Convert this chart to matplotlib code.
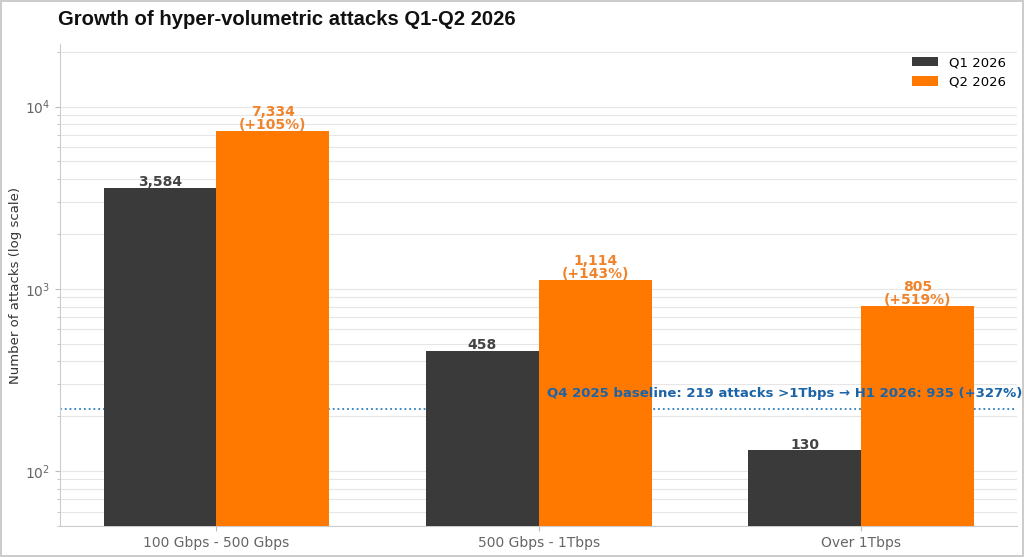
import numpy as np
import matplotlib.pyplot as plt

# Data
categories = ["100 Gbps - 500 Gbps", "500 Gbps - 1Tbps", "Over 1Tbps"]
q1_values = [3584, 458, 130]
q2_values = [7334, 1114, 805]
growth_pct = [105, 143, 519]
baseline_q4_2025 = 219
h1_2026_total = 935
baseline_growth = 327

q1_color = "#3a3a3a"
q2_color = "#ff7800"
q2_text_color = "#f0842c"
base_color = "#2a7fc0"
base_text_color = "#1c64a8"
grey = "#666666"

fig = plt.figure(figsize=(10.24, 5.57), dpi=100, edgecolor="#cccccc", linewidth=1.5)
ax = fig.add_axes([0.0586, 0.0557, 0.935, 0.865])

x = np.arange(len(categories))
w = 0.35
b1 = ax.bar(x - w / 2, q1_values, w, color=q1_color, label="Q1 2026", zorder=3)
b2 = ax.bar(x + w / 2, q2_values, w, color=q2_color, label="Q2 2026", zorder=3)

ax.set_yscale("log")
ax.set_ylim(50, max(q2_values) * 3)

for rect, v in zip(b1, q1_values):
    ax.text(rect.get_x() + rect.get_width() / 2, v * 0.985, f"{v:,}",
            ha="center", va="bottom", fontsize=10, fontweight="bold", color="#444444", zorder=4)
for rect, v, g in zip(b2, q2_values, growth_pct):
    ax.text(rect.get_x() + rect.get_width() / 2, v * 0.985, f"{v:,}\n(+{g}%)",
            ha="center", va="bottom", fontsize=10, fontweight="bold", color=q2_text_color,
            linespacing=0.95, zorder=4)

# Q4 2025 baseline
ax.axhline(baseline_q4_2025, color=base_color, linestyle=":", linewidth=1.3, zorder=2)
ax.text(2.5, baseline_q4_2025 * 1.12,
        f"Q4 2025 baseline: {baseline_q4_2025} attacks >1Tbps \u2192 H1 2026: {h1_2026_total} (+{baseline_growth}%)",
        ha="right", va="bottom", fontsize=9.5, fontweight="bold", color=base_text_color, zorder=4)

ax.grid(True, which="both", axis="y", color="#e6e6e6", linewidth=0.8, zorder=0)
ax.set_axisbelow(True)
for s in ["top", "right"]:
    ax.spines[s].set_visible(False)
for s in ["left", "bottom"]:
    ax.spines[s].set_color("#cccccc")
ax.tick_params(axis="both", colors="#bbbbbb", labelcolor=grey, labelsize=10)
ax.tick_params(axis="y", which="minor", colors="#bbbbbb")

ax.set_xticks(x)
ax.set_xticklabels(categories)
ax.set_ylabel("Number of attacks (log scale)", fontsize=9.5, color="#333333", labelpad=2)

ax.legend(loc="upper right", frameon=False, fontsize=9.5)
fig.text(0.0566, 0.965, "Growth of hyper-volumetric attacks Q1-Q2 2026",
         fontsize=14.6, fontweight="bold", family=["Liberation Sans", "DejaVu Sans"],
         ha="left", va="center", color="#111111")

fig.savefig("out.png", dpi=100, edgecolor=fig.get_edgecolor())
